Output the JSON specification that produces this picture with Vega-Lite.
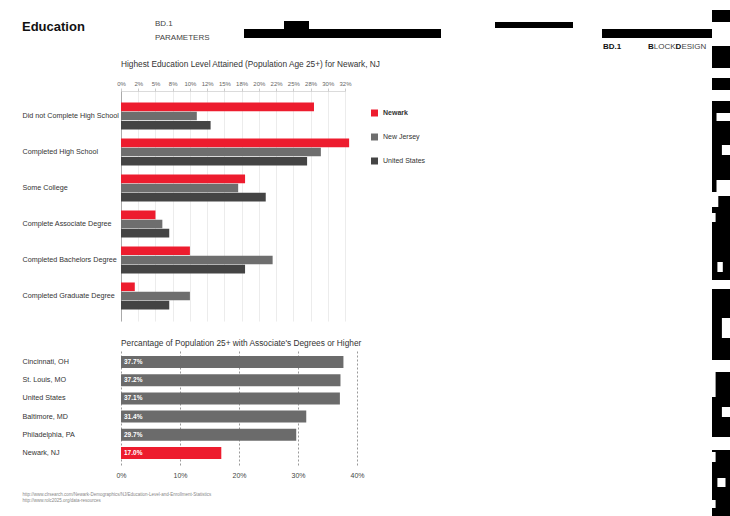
{
  "$schema": "https://vega.github.io/schema/vega-lite/v6.json",
  "padding": {"left": 22, "top": 0, "right": 0, "bottom": 0},
  "background": "white",
  "config": {"font": "Liberation Sans", "view": {"stroke": null}},
  "spacing": 0,
  "hconcat": [
    {
      "spacing": 8,
      "vconcat": [
        {
          "width": 591,
          "height": 50,
          "layer": [
            {
              "data": {"values": [
                {"x0": 222, "x1": 419, "y0": 29, "y1": 38},
                {"x0": 262, "x1": 287, "y0": 21, "y1": 29},
                {"x0": 473, "x1": 551, "y0": 22, "y1": 28},
                {"x0": 580, "x1": 690, "y0": 29, "y1": 38}
              ]},
              "mark": {"type": "rect", "color": "#000000"},
              "encoding": {
                "x": {"field": "x0", "type": "quantitative", "scale": {"domain": [99, 690], "nice": false, "zero": false}, "axis": null},
                "x2": {"field": "x1"},
                "y": {"field": "y0", "type": "quantitative", "scale": {"domain": [0, 50], "nice": false, "zero": false, "reverse": true}, "axis": null},
                "y2": {"field": "y1"}
              }
            },
            {
              "data": {"values": [{"t": "Education", "x": 0, "y": 27}]},
              "mark": {"type": "text", "fontSize": 13, "fontWeight": "bold", "align": "left", "baseline": "middle", "color": "#111111"},
              "encoding": {
                "x": {"field": "x", "type": "quantitative", "scale": {"domain": [99, 690], "nice": false, "zero": false}, "axis": null},
                "y": {"field": "y", "type": "quantitative", "scale": {"domain": [0, 50], "nice": false, "zero": false, "reverse": true}, "axis": null},
                "text": {"field": "t"}
              }
            },
            {
              "data": {"values": [{"t": "BD.1", "x": 133, "y": 24}, {"t": "PARAMETERS", "x": 133, "y": 38}, {"t": "LOCK", "x": 631.8, "y": 47}, {"t": "ESIGN", "x": 659.4, "y": 47}]},
              "mark": {"type": "text", "fontSize": 8, "align": "left", "baseline": "middle", "color": "#444444"},
              "encoding": {
                "x": {"field": "x", "type": "quantitative", "scale": {"domain": [99, 690], "nice": false, "zero": false}, "axis": null},
                "y": {"field": "y", "type": "quantitative", "scale": {"domain": [0, 50], "nice": false, "zero": false, "reverse": true}, "axis": null},
                "text": {"field": "t"}
              }
            },
            {
              "data": {"values": [{"t": "BD.1", "x": 581, "y": 47}, {"t": "B", "x": 626, "y": 47}, {"t": "D", "x": 653.6, "y": 47}]},
              "mark": {"type": "text", "fontSize": 8, "fontWeight": "bold", "align": "left", "baseline": "middle", "color": "#111111"},
              "encoding": {
                "x": {"field": "x", "type": "quantitative", "scale": {"domain": [99, 690], "nice": false, "zero": false}, "axis": null},
                "y": {"field": "y", "type": "quantitative", "scale": {"domain": [0, 50], "nice": false, "zero": false, "reverse": true}, "axis": null},
                "text": {"field": "t"}
              }
            }
          ]
        },
        {
          "spacing": 17,
          "vconcat": [
            {
              "width": 224,
              "height": 230,
              "title": {"text": "Highest Education Level Attained (Population Age 25+) for Newark, NJ", "anchor": "start", "frame": "group", "fontSize": 8.3, "fontWeight": "normal", "color": "#333333", "offset": 12},
              "data": {"values": [
                {"level": "Did not Complete High School", "series": "Newark", "value": 28.0},
                {"level": "Did not Complete High School", "series": "New Jersey", "value": 11.0},
                {"level": "Did not Complete High School", "series": "United States", "value": 13.0},
                {"level": "Completed High School", "series": "Newark", "value": 33.1},
                {"level": "Completed High School", "series": "New Jersey", "value": 29.0},
                {"level": "Completed High School", "series": "United States", "value": 27.0},
                {"level": "Some College", "series": "Newark", "value": 18.0},
                {"level": "Some College", "series": "New Jersey", "value": 17.0},
                {"level": "Some College", "series": "United States", "value": 21.0},
                {"level": "Complete Associate Degree", "series": "Newark", "value": 5.0},
                {"level": "Complete Associate Degree", "series": "New Jersey", "value": 6.0},
                {"level": "Complete Associate Degree", "series": "United States", "value": 7.0},
                {"level": "Completed Bachelors Degree", "series": "Newark", "value": 10.0},
                {"level": "Completed Bachelors Degree", "series": "New Jersey", "value": 22.0},
                {"level": "Completed Bachelors Degree", "series": "United States", "value": 18.0},
                {"level": "Completed Graduate Degree", "series": "Newark", "value": 2.0},
                {"level": "Completed Graduate Degree", "series": "New Jersey", "value": 10.0},
                {"level": "Completed Graduate Degree", "series": "United States", "value": 7.0}
              ]},
              "mark": {"type": "bar"},
              "encoding": {
                "y": {
                  "field": "level", "type": "nominal", "sort": null,
                  "scale": {"paddingInner": 0.25, "paddingOuter": 0.32},
                  "axis": {"title": null, "labelAlign": "left", "labelPadding": 99, "ticks": false, "domain": true, "domainColor": "#999999", "domainWidth": 0.8, "labelFontSize": 7.2, "labelColor": "#333333", "labelLimit": 0}
                },
                "yOffset": {"field": "series", "type": "nominal", "sort": ["Newark", "New Jersey", "United States"], "scale": {"paddingInner": 0.06}},
                "x": {
                  "field": "value", "type": "quantitative",
                  "scale": {"domain": [0, 32.5], "nice": false},
                  "axis": {
                    "orient": "top", "title": null,
                    "values": [0, 2.5, 5, 7.5, 10, 12.5, 15, 17.5, 20, 22.5, 25, 27.5, 30, 32.5],
                    "labelExpr": "(datum.value % 5 == 0 ? datum.value : (floor(datum.value / 5) % 2 == 0 ? floor(datum.value) : ceil(datum.value))) + '%'",
                    "labelOverlap": false, "labelFlush": false,
                    "grid": true, "gridColor": "#e4e4e4", "gridWidth": 0.7,
                    "domainColor": "#cccccc", "domainWidth": 0.7,
                    "tickColor": "#cccccc", "tickSize": 3,
                    "labelFontSize": 6, "labelColor": "#666666", "labelPadding": 2
                  }
                },
                "color": {
                  "field": "series", "type": "nominal",
                  "scale": {"domain": ["Newark", "New Jersey", "United States"], "range": ["#ed1c2e", "#6e6e6e", "#444444"]},
                  "legend": {
                    "orient": "none", "legendX": 250, "legendY": 109.5, "title": null,
                    "symbolType": "square", "symbolSize": 49, "symbolStrokeWidth": 0,
                    "labelFontSize": 7, "labelColor": "#333333", "labelOffset": 5,
                    "rowPadding": 16, "padding": 0,
                    "labelFontWeight": {"expr": "datum.label == 'Newark' ? 'bold' : 'normal'"}
                  }
                }
              }
            },
            {
              "width": 236,
              "height": 115,
              "title": {"text": "Percantage of Population 25+ with Associate's Degrees or Higher", "anchor": "start", "frame": "group", "fontSize": 8.3, "fontWeight": "normal", "color": "#333333", "offset": 3},
              "data": {"values": [
                {"city": "Cincinnati, OH", "share": 0.377},
                {"city": "St. Louis, MO", "share": 0.372},
                {"city": "United States", "share": 0.371},
                {"city": "Baltimore, MD", "share": 0.314},
                {"city": "Philadelphia, PA", "share": 0.297},
                {"city": "Newark, NJ", "share": 0.170}
              ]},
              "encoding": {
                "y": {
                  "field": "city", "type": "nominal", "sort": null,
                  "scale": {"paddingInner": 0.34, "paddingOuter": 0.33},
                  "axis": {"title": null, "labelAlign": "left", "labelPadding": 99, "ticks": false, "domain": false, "labelFontSize": 7.2, "labelColor": "#333333", "labelLimit": 0}
                }
              },
              "layer": [
                {
                  "mark": {"type": "bar"},
                  "encoding": {
                    "x": {
                      "field": "share", "type": "quantitative",
                      "scale": {"domain": [0, 0.4], "nice": false},
                      "axis": {
                        "orient": "bottom", "values": [0, 0.1, 0.2, 0.3, 0.4], "format": ".0%",
                        "labelFlush": false,
                        "grid": true, "gridDash": [2, 2], "gridColor": "#555555", "gridWidth": 0.6,
                        "domain": false, "ticks": false,
                        "labelFontSize": 7, "labelColor": "#444444", "labelPadding": 6,
                        "title": ["http://www.clrsearch.com/Newark-Demographics/NJ/Education-Level-and-Enrollment-Statistics", "http://www.rolc2025.org/data-resources"],
                        "titleFontSize": 4.5, "titleFontWeight": "normal", "titleColor": "#888888",
                        "titleAnchor": "start", "titleAlign": "left", "titleBaseline": "top",
                        "titleX": -99, "titleY": 26, "titleLineHeight": 6
                      }
                    },
                    "color": {"condition": {"test": "datum.city == 'Newark, NJ'", "value": "#ed1c2e"}, "value": "#6b6b6b"}
                  }
                },
                {
                  "mark": {"type": "text", "align": "left", "dx": 3, "baseline": "middle", "color": "#ffffff", "fontWeight": "bold", "fontSize": 6.5},
                  "encoding": {
                    "x": {"datum": 0, "type": "quantitative"},
                    "text": {"field": "share", "format": ".1%"}
                  }
                }
              ]
            }
          ]
        }
      ]
    },
    {
      "width": 18,
      "height": 516,
      "layer": [
        {
          "data": {"values": [
            {"x0": 0, "x1": 1, "y0": 10, "y1": 22},
            {"x0": 0, "x1": 1, "y0": 46, "y1": 68},
            {"x0": 0, "x1": 1, "y0": 78, "y1": 90},
            {"x0": 0, "x1": 1, "y0": 101, "y1": 192},
            {"x0": 0, "x1": 1, "y0": 196, "y1": 280},
            {"x0": 0, "x1": 1, "y0": 289, "y1": 360},
            {"x0": 0, "x1": 1, "y0": 372, "y1": 437},
            {"x0": 0, "x1": 1, "y0": 450, "y1": 516}
          ]},
          "mark": {"type": "rect", "color": "#000000"},
          "encoding": {
            "x": {"field": "x0", "type": "quantitative", "scale": {"domain": [0, 1], "nice": false}, "axis": null},
            "x2": {"field": "x1"},
            "y": {"field": "y0", "type": "quantitative", "scale": {"domain": [0, 516], "nice": false, "reverse": true}, "axis": null},
            "y2": {"field": "y1"}
          }
        },
        {
          "data": {"values": [
            {"x0": 0.25, "x1": 1, "y0": 113, "y1": 121},
            {"x0": 0.55, "x1": 1, "y0": 145, "y1": 155},
            {"x0": 0.25, "x1": 1, "y0": 180, "y1": 192},
            {"x0": 0, "x1": 0.35, "y0": 196, "y1": 207},
            {"x0": 0, "x1": 0.2, "y0": 213, "y1": 222},
            {"x0": 0.3, "x1": 0.6, "y0": 262, "y1": 272},
            {"x0": 0.55, "x1": 1, "y0": 318, "y1": 338},
            {"x0": 0, "x1": 0.2, "y0": 372, "y1": 397},
            {"x0": 0.55, "x1": 1, "y0": 407, "y1": 417},
            {"x0": 0, "x1": 0.2, "y0": 452, "y1": 462},
            {"x0": 0.3, "x1": 0.75, "y0": 478, "y1": 487},
            {"x0": 0, "x1": 0.2, "y0": 500, "y1": 508}
          ]},
          "mark": {"type": "rect", "color": "#ffffff"},
          "encoding": {
            "x": {"field": "x0", "type": "quantitative", "scale": {"domain": [0, 1], "nice": false}, "axis": null},
            "x2": {"field": "x1"},
            "y": {"field": "y0", "type": "quantitative", "scale": {"domain": [0, 516], "nice": false, "reverse": true}, "axis": null},
            "y2": {"field": "y1"}
          }
        }
      ]
    }
  ]
}
